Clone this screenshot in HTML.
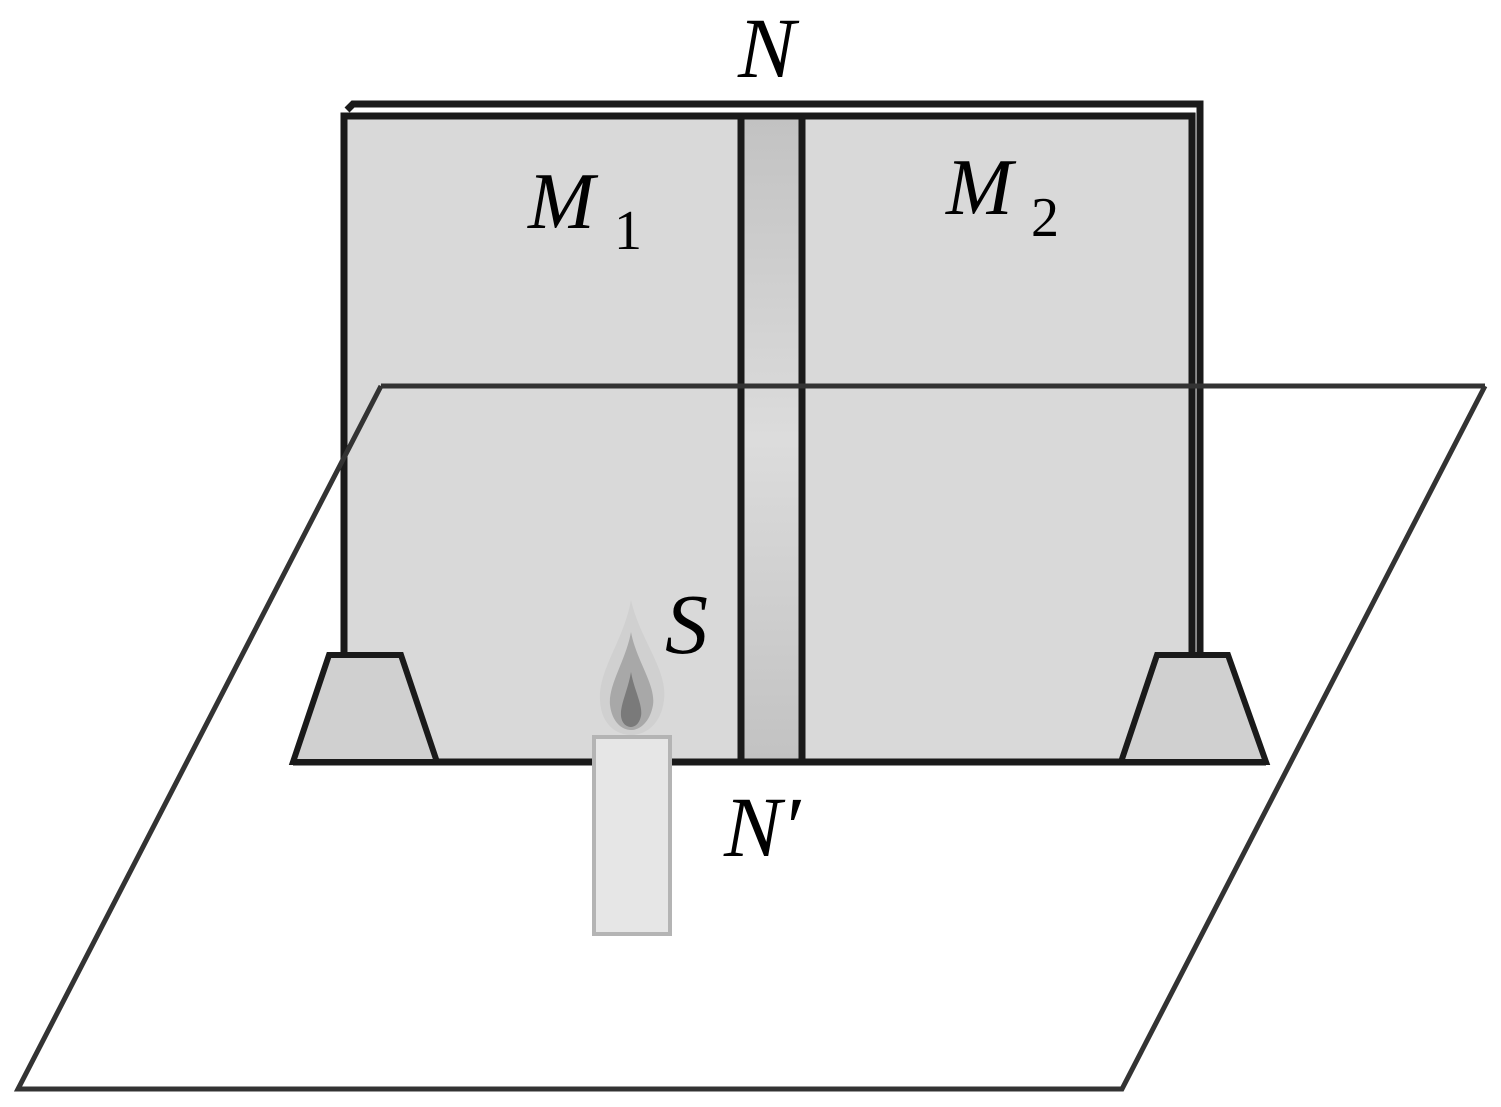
<!DOCTYPE html>
<html><head><style>body{margin:0;background:#fff}svg{display:block}
.t{font-family:"Liberation Serif","DejaVu Serif",serif;font-style:italic}
.s{font-family:"Liberation Serif","DejaVu Serif",serif;font-style:normal}
</style></head><body>
<svg width="1501" height="1107" viewBox="0 0 1501 1107" xmlns="http://www.w3.org/2000/svg">
<defs>
<linearGradient id="g" x1="0" y1="0" x2="0" y2="1">
<stop offset="0" stop-color="#c2c2c2"/><stop offset="0.5" stop-color="#dcdcdc"/><stop offset="1" stop-color="#c2c2c2"/></linearGradient>
</defs>
<rect x="343" y="113" width="853" height="649" fill="#d9d9d9"/>
<rect x="741" y="118" width="61" height="644" fill="url(#g)"/>
<g stroke="#1a1a1a" stroke-width="7" fill="none">
<polyline points="344,762 344,116 1192,116 1192,762"/>
<polyline points="347,110 353,104 1200,104 1200,655"/>
<line x1="741" y1="118" x2="741" y2="762"/>
<line x1="802" y1="118" x2="802" y2="762"/>
<line x1="293" y1="762" x2="1266" y2="762"/>
</g>
<g stroke="#333" stroke-width="5" fill="none">
<line x1="381" y1="386" x2="1485" y2="386"/>
<polyline points="381,386 18,1089 1122,1089 1485,386"/>
</g>
<g stroke="#1a1a1a" stroke-width="6" fill="#d0d0d0">
<polygon points="329,655 401,655 437,762 293,762"/>
<polygon points="1157,655 1228,655 1266,762 1121,762"/>
</g>
<path d="M631,600 C640,640 668,670 664,700 C661,725 645,735 631,735 C617,735 601,725 600,700 C598,670 624,640 631,600Z" fill="#d0d0d0"/>
<path d="M631,632 C636,660 656,685 653,705 C650,722 640,730 631,730 C622,730 612,722 610,705 C608,685 626,660 631,632Z" fill="#a8a8a8"/>
<path d="M631,672 C634,690 643,705 641,716 C639,725 634,727 631,727 C628,727 622,725 621,716 C620,705 628,690 631,672Z" fill="#7a7a7a"/>
<rect x="594" y="737" width="76" height="197" fill="#e6e6e6" stroke="#b4b4b4" stroke-width="4"/>
<g fill="#000">
<text class="t" x="738" y="77" font-size="86">N</text>
<text class="t" x="528" y="228" font-size="80">M</text>
<text class="t" x="946" y="214" font-size="80">M</text>
<text class="t" x="665" y="653" font-size="86">S</text>
<text class="t" x="724" y="856" font-size="86">N′</text>
<text class="s" x="614" y="249" font-size="56">1</text>
<text class="s" x="1031" y="236" font-size="56">2</text>
</g>
</svg>
</body></html>
